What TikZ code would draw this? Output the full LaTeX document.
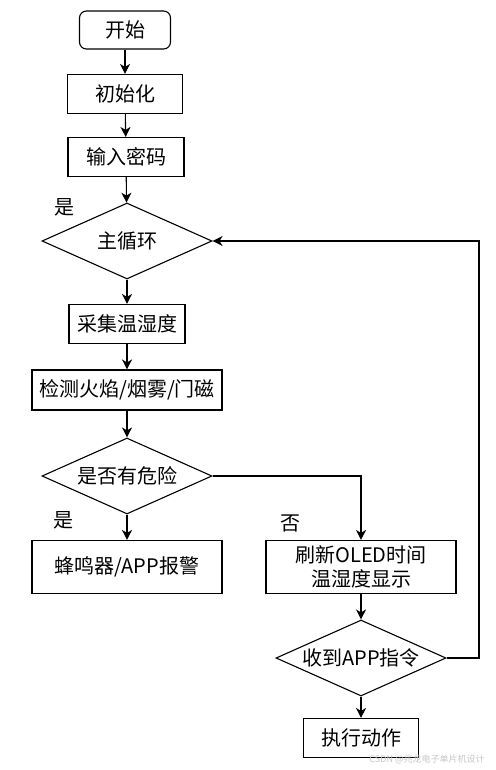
\documentclass[tikz,border=0pt]{standalone}
\usepackage{fontspec}
\setmainfont{Noto Sans CJK SC}
\usetikzlibrary{shapes.geometric,arrows.meta}
\begin{document}
\begin{tikzpicture}[x=1pt,y=-1pt,
  every node/.style={font=\fontsize{20}{24}\selectfont, inner sep=0pt},
  procbox/.style={draw, line width=1.1pt, minimum height=39pt, align=center},
  decbox/.style={draw, diamond, line width=1.1pt, minimum width=170pt, minimum height=76pt, aspect=2.2},
  termbox/.style={draw, rounded corners=7pt, line width=1.1pt, minimum width=91pt, minimum height=38pt},
  arr/.style={draw, line width=1.1pt, -{Stealth[length=10pt,width=10pt,inset=3pt]}},
  lbl/.style={font=\fontsize{20}{24}\selectfont}]
\useasboundingbox (0,0) rectangle (495,770);
\fill[white] (0,0) rectangle (495,770);

\node[termbox] (start) at (125,30) {开始};
\node[procbox, minimum width=115pt] (init) at (125,94) {初始化};
\node[procbox, minimum width=116pt] (pwd) at (126,157) {输入密码};
\node[decbox] (loop) at (127,241) {主循环};
\node[procbox, minimum width=116pt] (collect) at (127,324) {采集温湿度};
\node[procbox, minimum width=190pt, minimum height=40pt] (detect) at (127,390) {检测火焰/烟雾/门磁};
\node[decbox] (danger) at (127,476) {是否有危险};
\node[procbox, minimum width=190pt, minimum height=53pt] (alarm) at (127,567) {蜂鸣器/APP报警};
\node[procbox, minimum width=190pt, minimum height=53pt] (refresh) at (361,567) {刷新OLED时间\\温湿度显示};
\node[decbox] (recv) at (361,658) {收到APP指令};
\node[procbox, minimum width=115pt] (exec) at (361,738) {执行动作};

\node[lbl] (yes1) at (64,207) {是};
\node[lbl] (yes2) at (63,520) {是};
\node[lbl] (no1) at (290,523) {否};
\node[font=\fontsize{9}{11}\selectfont, text=black!22] (wm) at (427,759) {CSDN @兆龙电子单片机设计};

\coordinate (rt) at (479,241);

\draw[arr] (start) -- (init);
\draw[arr] (init) -- (pwd);
\draw[arr] (pwd) -- (loop);
\draw[arr] (loop) -- (collect);
\draw[arr] (collect) -- (detect);
\draw[arr] (detect) -- (danger);
\draw[arr] (danger) -- (alarm);
\draw[arr] (danger.east) -| (refresh.north);
\draw[arr] (refresh) -- (recv);
\draw[arr] (recv) -- (exec);
\draw[arr] (recv.east) -| (rt) -- (loop.east);
\end{tikzpicture}
\end{document}
